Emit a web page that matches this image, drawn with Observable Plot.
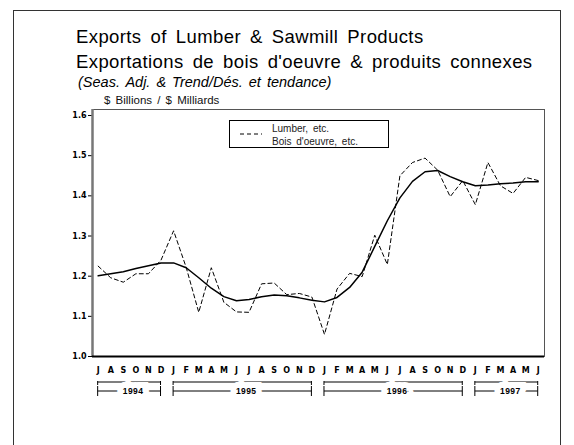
<!DOCTYPE html>
<html><head><meta charset="utf-8">
<script src="https://cdn.jsdelivr.net/npm/d3@7"></script>
<script src="https://cdn.jsdelivr.net/npm/@observablehq/plot@0.6"></script>
<style>
body{margin:0;background:#fff;}
#wrap{position:relative;width:574px;height:445px;overflow:hidden;font-family:"Liberation Sans",Arial,sans-serif;background:#fff;}
#border{position:absolute;left:13px;top:10px;width:548px;height:470px;border:1.5px solid #333;box-sizing:border-box;}
.t{position:absolute;white-space:nowrap;color:#000;line-height:1;}
#t1,#t2{font-size:18.5px;letter-spacing:0.4px;word-spacing:3.5px;left:76px;}
#t1{top:28px;} #t2{top:53px;}
#t3{font-size:14.5px;font-style:italic;left:78px;top:75px;word-spacing:2px;}
#t4{font-size:11.5px;left:104px;top:95px;word-spacing:2px;color:#111;}
#chart{position:absolute;left:0;top:0;}
#chart svg text{font-weight:bold;}
#legend{position:absolute;left:229px;top:120px;width:160px;height:28px;border:1px solid #000;border-right-width:1.5px;border-bottom-width:1.5px;background:#fff;box-sizing:border-box;}
#legend svg{position:absolute;left:0;top:0;}
#legend .l{position:absolute;left:42px;font-size:10px;color:#222;word-spacing:2px;white-space:nowrap;line-height:1;}
</style></head><body>
<div id="wrap">
  <div id="border"></div>
  <div class="t" id="t1">Exports of Lumber &amp; Sawmill Products</div>
  <div class="t" id="t2">Exportations de bois d'oeuvre &amp; produits connexes</div>
  <div class="t" id="t3">(Seas. Adj. &amp; Trend/Dés. et tendance)</div>
  <div class="t" id="t4">$ Billions / $ Milliards</div>
  <div id="chart"></div>
  <div id="legend">
    <svg width="40" height="26"><line x1="10" y1="13" x2="32" y2="13" stroke="#000" stroke-width="1" stroke-dasharray="4,3"/></svg>
    <div class="l" style="top:3px">Lumber, etc.</div>
    <div class="l" style="top:16px">Bois d'oeuvre, etc.</div>
  </div>
</div>
<script>
// Month letters, July 1994 to June 1997
const monthLetters = ["J","A","S","O","N","D",
  "J","F","M","A","M","J","J","A","S","O","N","D",
  "J","F","M","A","M","J","J","A","S","O","N","D",
  "J","F","M","A","M","J"];
// Seasonally adjusted exports ($ billions)
const lumber = [1.225,1.196,1.185,1.206,1.206,1.240,
  1.313,1.222,1.110,1.221,1.135,1.111,1.110,1.181,1.183,1.154,1.157,1.148,
  1.055,1.168,1.207,1.199,1.302,1.229,1.450,1.483,1.494,1.464,1.398,1.438,
  1.378,1.483,1.425,1.406,1.446,1.438];
// Trend
const trend = [1.201,1.206,1.211,1.219,1.226,1.233,
  1.233,1.221,1.196,1.170,1.149,1.139,1.142,1.149,1.153,1.151,1.146,1.140,
  1.136,1.147,1.172,1.210,1.274,1.338,1.395,1.436,1.460,1.463,1.448,1.435,
  1.425,1.427,1.430,1.432,1.435,1.435];
const yTicks = [1.0,1.1,1.2,1.3,1.4,1.5,1.6];
const yearLabels = ["1994","1995","1996","1997"];
const yearStart = [0,6,18,30];
const yearEnd = [5,17,29,35];

const data = monthLetters.map((m, i) => ({i, lumber: lumber[i], trend: trend[i]}));
const years = yearLabels.map((y, k) => ({label: y, start: yearStart[k], end: yearEnd[k]}));

function brackets(index, scales, values, dimensions) {
  const {x, y} = scales;
  const g = d3.create("svg:g");
  const base = y(1.0);
  for (const yr of years) {
    const x0 = x(yr.start), x1 = x(yr.end);
    const top = base + 26;
    g.append("line").attr("x1", x0).attr("x2", x1).attr("y1", top).attr("y2", top)
      .attr("stroke", "#555").attr("stroke-width", 1.6);
    for (const xx of [x0, x1]) {
      g.append("line").attr("x1", xx).attr("x2", xx).attr("y1", top - 1).attr("y2", top + 3)
        .attr("stroke", "#000").attr("stroke-width", 1);
      g.append("line").attr("x1", xx).attr("x2", xx).attr("y1", base + 30).attr("y2", base + 40)
        .attr("stroke", "#000").attr("stroke-width", 1);
    }
    const mid = base + 35;
    g.append("line").attr("x1", x0).attr("x2", x1).attr("y1", mid).attr("y2", mid)
      .attr("stroke", "#000").attr("stroke-width", 1);
    g.append("text").attr("x", (x0 + x1) / 2 + 4).attr("y", mid).attr("dy", "0.35em")
      .attr("text-anchor", "middle").attr("font-size", 8.5).attr("font-weight", "bold")
      .attr("font-family", "'Liberation Sans', Arial, sans-serif").attr("letter-spacing", 0.4)
      .attr("stroke", "#fff").attr("stroke-width", 12).attr("paint-order", "stroke")
      .attr("fill", "#000").text(yr.label);
  }
  return g.node();
}

const chart = Plot.plot({
  width: 574,
  height: 445,
  marginLeft: 92,
  marginRight: 30,
  marginTop: 109,
  marginBottom: 89,
  style: {fontFamily: "'DejaVu Sans', sans-serif", fontSize: "8px", background: "transparent", overflow: "visible"},
  x: {type: "linear", domain: [-0.45, 35.5]},
  y: {domain: [1.0, 1.615]},
  marks: [
    Plot.frame({stroke: "#555", strokeWidth: 1}),
    Plot.axisY({ticks: yTicks, tickFormat: d3.format(".1f"), tickSize: 4, tickPadding: 2, label: null, stroke: "#000", fill: "#000"}),
    Plot.axisX({ticks: d3.range(monthLetters.length), tickFormat: i => monthLetters[i], tickSize: 0, tickPadding: 11, label: null, fill: "#000"}),
    Plot.ruleX([-0.45], {stroke: "#777", strokeWidth: 2.5}),
    Plot.ruleY([1.0], {stroke: "#000", strokeWidth: 2}),
    Plot.line(data, {x: "i", y: "lumber", stroke: "#000", strokeWidth: 1, strokeDasharray: "4,3"}),
    Plot.line(data, {x: "i", y: "trend", stroke: "#000", strokeWidth: 1.5}),
    brackets
  ]
});
document.getElementById("chart").append(chart);
</script>
</body></html>
